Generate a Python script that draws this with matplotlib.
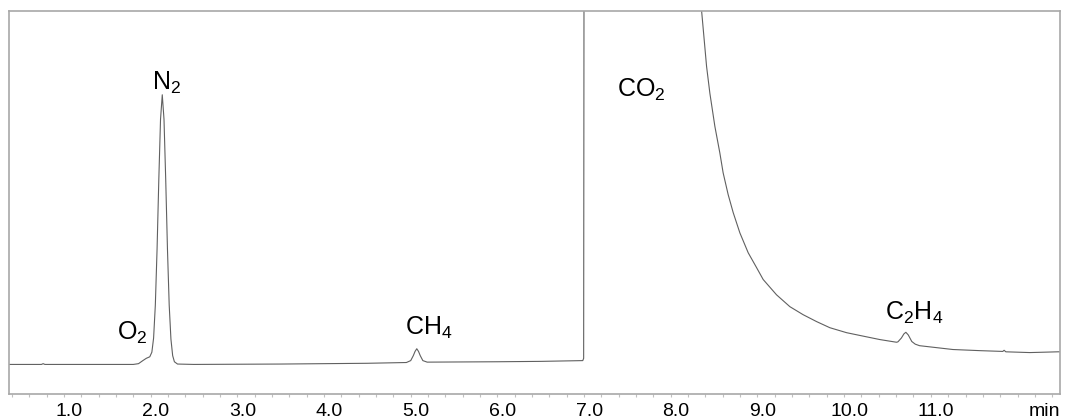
import matplotlib
matplotlib.use("Agg")
import matplotlib.pyplot as plt
import matplotlib.transforms as mtransforms

plt.rcParams['font.family'] = ['Liberation Sans', 'DejaVu Sans']
plt.rcParams['mathtext.fontset'] = 'custom'
plt.rcParams['mathtext.rm'] = 'Liberation Sans'
plt.rcParams['mathtext.it'] = 'Liberation Sans'

# Chromatogram trace (time in min, detector signal in arbitrary units)
time_min = [0.366, 0.74, 0.76, 0.78, 1.20, 1.80, 1.86, 1.91, 1.95, 1.99,
            2.014, 2.034, 2.054, 2.074, 2.094, 2.114, 2.134, 2.154, 2.174, 2.194,
            2.214, 2.234, 2.254, 2.274, 2.31, 2.5, 3.5, 4.5,
            4.95, 5.00, 5.03, 5.05, 5.07, 5.09, 5.11, 5.14, 5.19,
            6.0, 6.5, 6.985, 6.995, 7.0, 8.0, 8.30,
            8.355, 8.413, 8.451, 8.509, 8.566, 8.604, 8.662, 8.720, 8.797, 8.893,
            8.990, 9.066, 9.220, 9.374, 9.527, 9.682, 9.835, 10.028, 10.219, 10.412,
            10.604, 10.62, 10.66, 10.69, 10.712, 10.74, 10.78, 10.82, 10.87,
            11.254, 11.57, 11.83, 11.845, 11.865, 12.142, 12.31, 12.465, 12.49]
signal = [7.6, 7.6, 7.8, 7.6, 7.6, 7.6, 7.8, 8.6, 9.2, 9.6,
          10.8, 14.5, 23.1, 37.7, 55.8, 71.7, 78.1, 71.7, 55.8, 37.7,
          23.1, 14.2, 9.9, 8.3, 7.7, 7.6, 7.7, 7.9,
          8.1, 8.6, 9.9, 11.0, 11.7, 11.0, 9.9, 8.6, 8.2,
          8.3, 8.4, 8.6, 9.2, 130.0, 130.0, 130.0,
          100.2, 85.5, 78.5, 69.8, 62.9, 57.7, 52.0, 47.3, 42.0, 36.8,
          32.9, 29.8, 25.8, 22.7, 20.6, 18.8, 17.2, 15.9, 15.0, 14.1,
          13.4, 13.5, 14.5, 15.6, 16.0, 15.3, 13.6, 12.9, 12.5,
          11.5, 11.2, 11.0, 11.3, 10.9, 10.7, 10.8, 10.9, 10.9]

# Peak labels
peak_names = ['O$_2$', 'N$_2$', 'CH$_4$', 'CO$_2$', 'C$_2$H$_4$']
label_t = [1.608, 2.015, 4.933, 7.375, 10.47]
label_y = [14.1, 79.4, 15.4, 77.6, 19.3]

major_ticks = [1.0, 2.0, 3.0, 4.0, 5.0, 6.0, 7.0, 8.0, 9.0, 10.0, 11.0]
major_labels = ['1.0', '2.0', '3.0', '4.0', '5.0', '6.0', '7.0', '8.0', '9.0', '10.0', '11.0']

fig = plt.figure(figsize=(10.71, 4.19), dpi=100)
ax = fig.add_axes([9/1071, (419-393.5)/419, (1060-9)/1071, (393.5-11)/419])

ax.plot(time_min, signal, color='#606060', lw=0.8, clip_on=True)

ax.set_xlim(0.366, 12.49)
ax.set_ylim(0, 100)

for name, t, y in zip(peak_names, label_t, label_y):
    ax.text(t, y, name, fontsize=18, ha='left', va='baseline', color='black')

TICK_LEN = 2.5
PAD = 4.5
ax.set_yticks([])
ax.set_xticks(major_ticks)
ax.set_xticklabels(major_labels, fontsize=14)
minor = [round(0.4 + 0.2 * i, 1) for i in range(61)]
ax.set_xticks(minor, minor=True)
ax.tick_params(axis='x', which='both', direction='out', length=TICK_LEN, width=0.8,
               color='#c0c0c0', pad=PAD)
offset = mtransforms.ScaledTranslation(5/100, 0, fig.dpi_scale_trans)
for lbl in ax.get_xticklabels():
    lbl.set_transform(lbl.get_transform() + offset)

for s in ax.spines.values():
    s.set_color('#a8a8a8')
    s.set_linewidth(1.2)

ax.annotate('min', xy=(1.0, 0.0), xycoords='axes fraction',
            xytext=(0, -(TICK_LEN + PAD)), textcoords='offset points',
            ha='right', va='top', fontsize=14)

fig.savefig('out.png', dpi=100)
